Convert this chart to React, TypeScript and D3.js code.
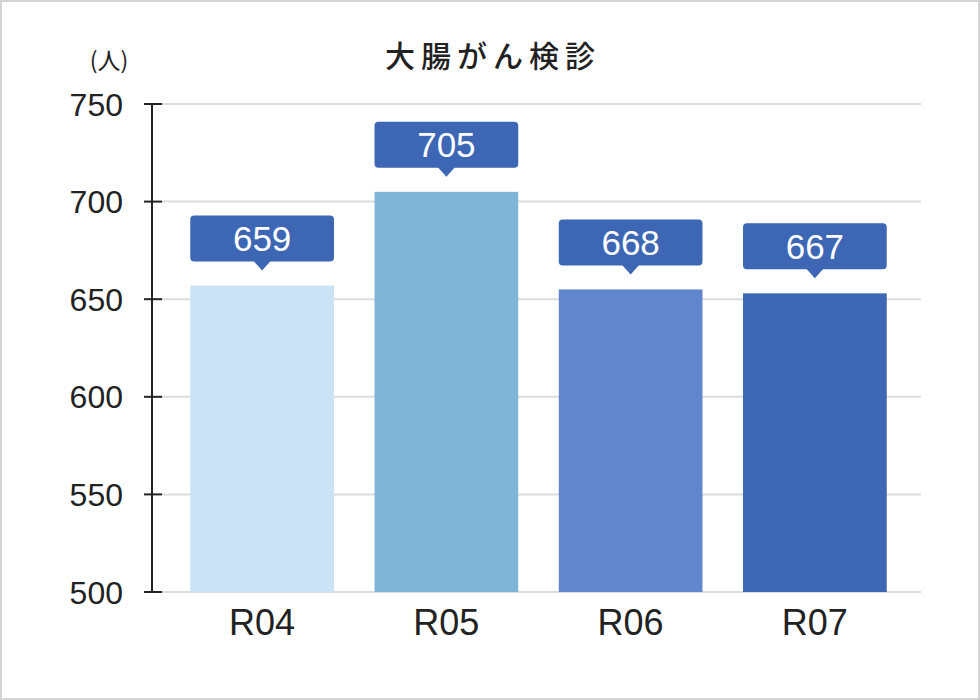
import React from "react";
import * as d3 from "d3";

const categories = ["R04", "R05", "R06", "R07"];
const barValues = [657, 705, 655, 653];
const labelValues = [659, 705, 668, 667];
const barColors = ["#cbe4f5", "#7fb6d7", "#6186cc", "#3d66b3"];
const yTicks = [500, 550, 600, 650, 700, 750];
const title = "大腸がん検診";
const unit = "(人)";

const W = 980;
const H = 700;

export default function App() {
  const x = d3.scaleBand<string>().domain(categories).range([170, 907]).paddingInner(0.22).paddingOuter(0.11);
  const y = d3.scaleLinear().domain([500, 750]).range([592, 104]);
  const font = "'Liberation Sans', Arial, sans-serif";
  const cjk = "'Noto Sans CJK JP', sans-serif";
  return (
    <div style={{ position: "absolute", left: 0, top: 0 }}>
      <svg width={W} height={H} style={{ display: "block" }}>
        <rect x={1} y={1} width={W - 2} height={H - 2} fill="#fff" stroke="#d4d4d4" strokeWidth={2} />
        <text x={493} y={67} textAnchor="middle" fontFamily={cjk} fontSize={30} fontWeight={500} letterSpacing={6} fill="#222">{title}</text>
        <text x={109} y={69} textAnchor="middle" fontFamily={cjk} fontSize={23} fill="#222">{unit}</text>
        {yTicks.map((t) => (
          <g key={t}>
            <line x1={162} x2={921} y1={y(t)} y2={y(t)} stroke="#dcdcdc" strokeWidth={2} />
            <line x1={144} x2={162} y1={y(t)} y2={y(t)} stroke="#222" strokeWidth={2} />
            <text x={123} y={y(t)} dy="0.36em" textAnchor="end" fontFamily={font} fontSize={32} fill="#222">{t}</text>
          </g>
        ))}
        <line x1={152} x2={152} y1={y(750)} y2={y(500)} stroke="#222" strokeWidth={2} />
        {categories.map((c, i) => {
          const bx = x(c) as number;
          const bw = x.bandwidth();
          const top = y(barValues[i]);
          const boxBottom = top - 24;
          const boxTop = boxBottom - 46;
          const cx = bx + bw / 2;
          return (
            <g key={c}>
              <rect x={bx} y={top} width={bw} height={y(500) - top} fill={barColors[i]} />
              <rect x={bx} y={boxTop} width={bw} height={46} rx={4} fill="#3d66b4" />
              <path d={`M${cx - 9},${boxBottom - 1} L${cx},${boxBottom + 9} L${cx + 9},${boxBottom - 1} Z`} fill="#3d66b4" />
              <text x={cx} y={boxTop + 23} dy="0.36em" textAnchor="middle" fontFamily={font} fontSize={35} fill="#fff">{labelValues[i]}</text>
              <text x={cx} y={635} textAnchor="middle" fontFamily={font} fontSize={36} fill="#222">{c}</text>
            </g>
          );
        })}
      </svg>
    </div>
  );
}
